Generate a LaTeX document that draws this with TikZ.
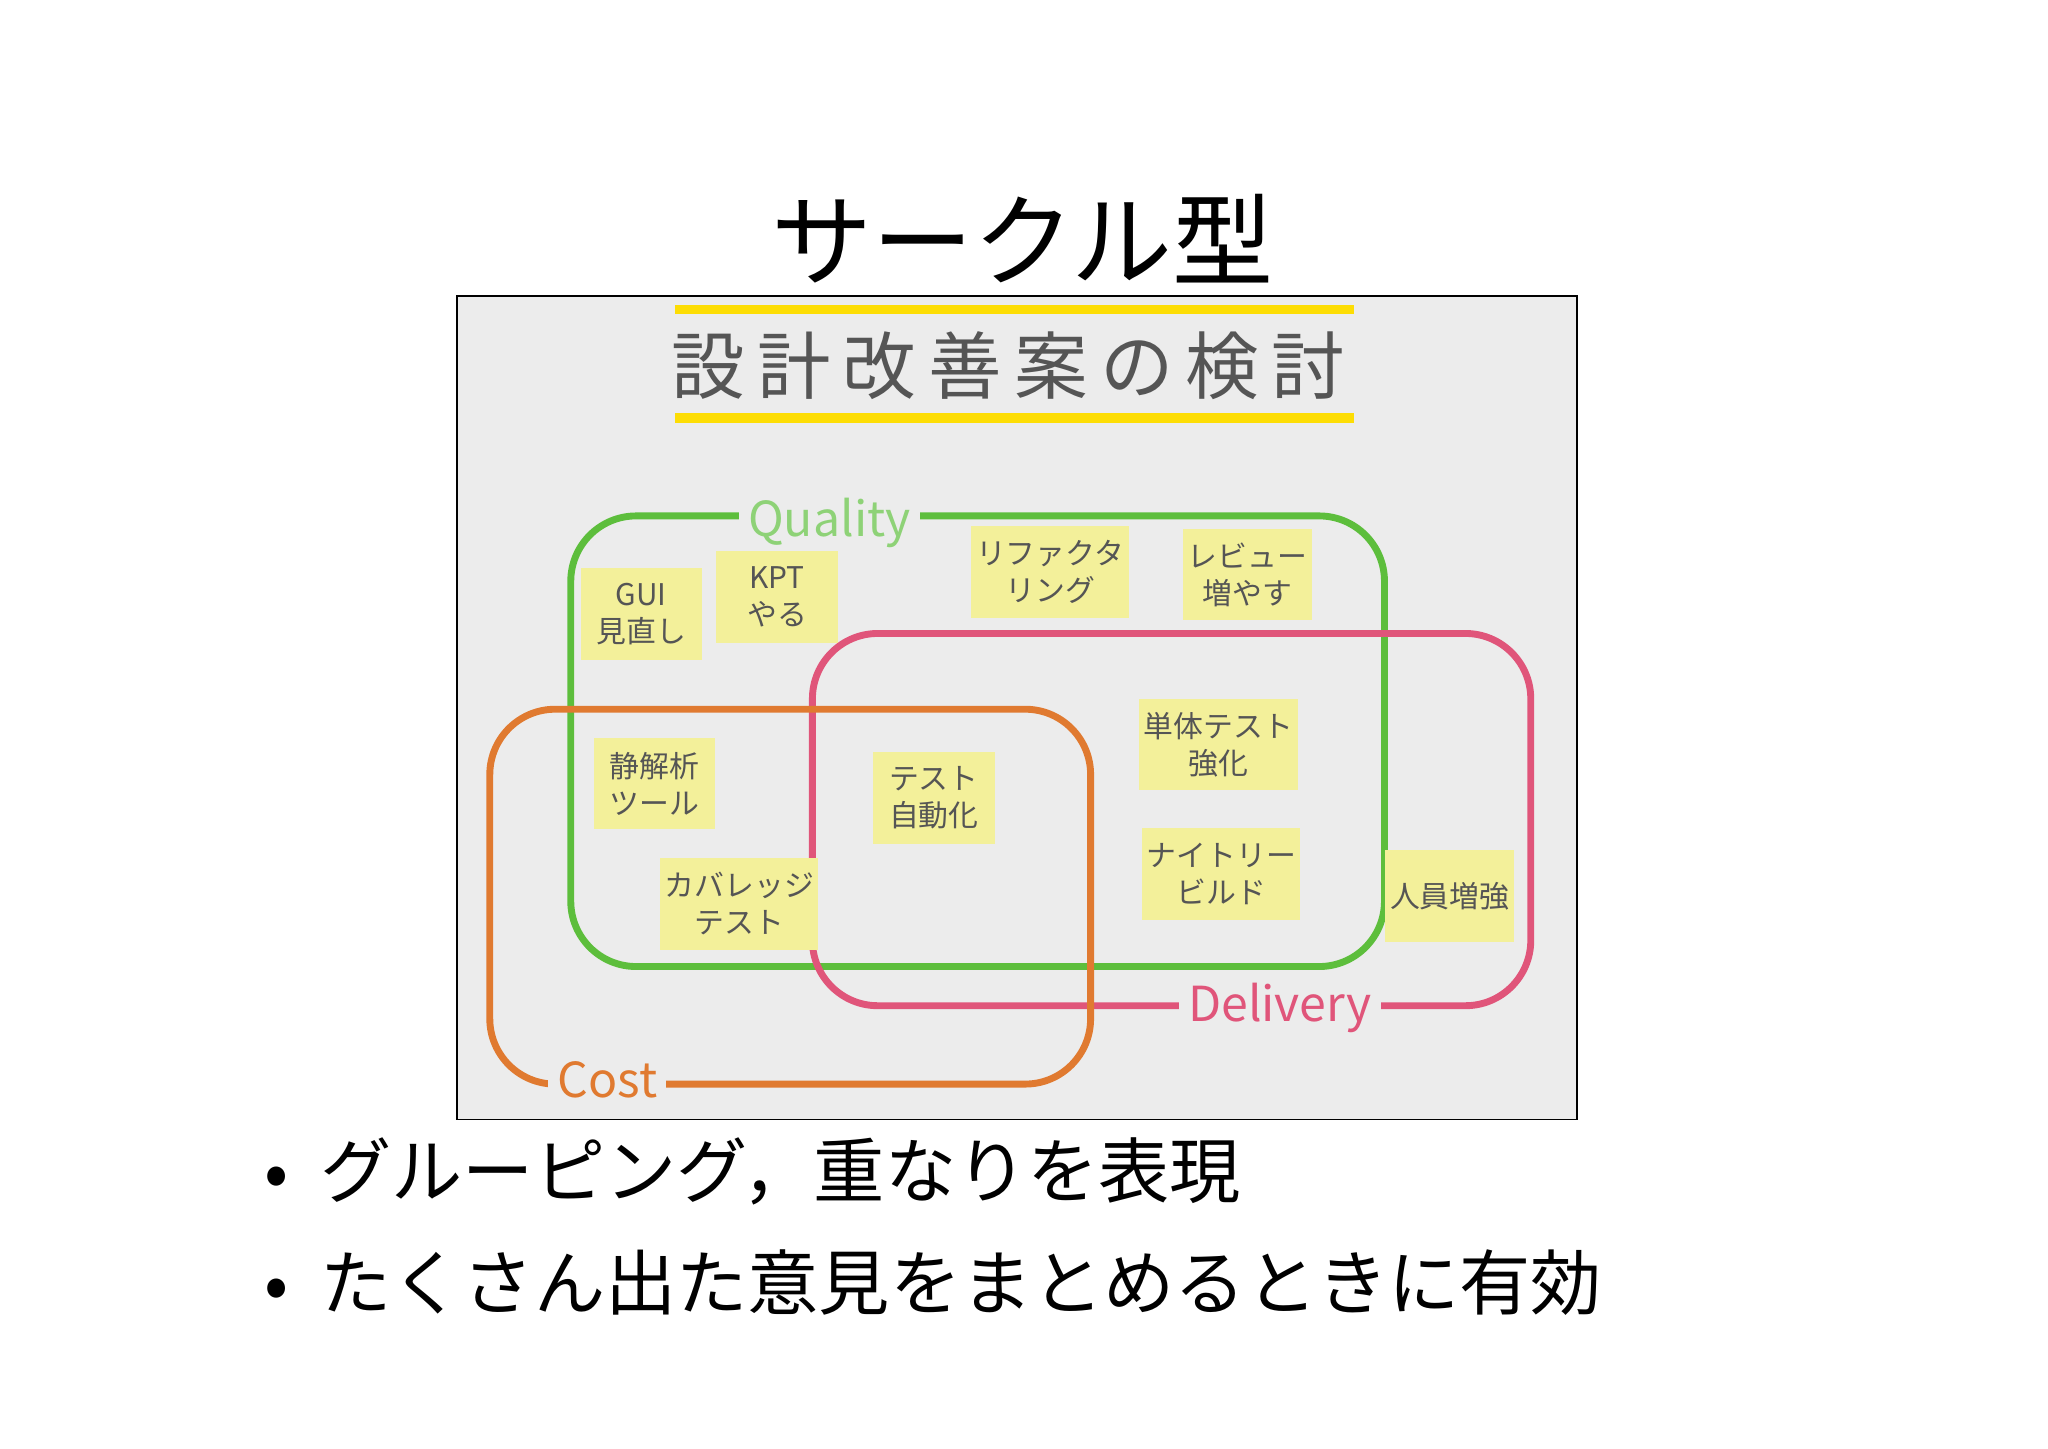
\documentclass[tikz,border=0pt]{standalone}
\usepackage{fontspec}
\setmainfont{Noto Sans CJK JP}
\newfontfamily\jp{Noto Sans CJK JP}
\definecolor{bgp}{HTML}{ECECEC}
\definecolor{sticky}{HTML}{F3F09A}
\definecolor{qgreen}{HTML}{5DBE3C}
\definecolor{dpink}{HTML}{E0557A}
\definecolor{corange}{HTML}{E07A30}
\definecolor{hand}{HTML}{555555}
\tikzset{
 note/.style={fill=sticky,minimum width=0.93cm,minimum height=0.70cm,inner sep=1pt,align=center,font=\jp\fontsize{6.5}{8}\selectfont,text=hand},
 loop/.style={line width=1.5pt,rounded corners=0.5cm},
 lab/.style={fill=bgp,inner sep=2pt,font=\fontsize{10.5}{11}\selectfont},
 bul/.style={anchor=west,font=\jp\fontsize{15.5}{16}\selectfont}
}
\begin{document}
\begin{tikzpicture}[x=0.01cm,y=-0.01cm]
\useasboundingbox[fill=white] (0,0) rectangle (1568,1109);
\node (title) at (783,183) {\fontsize{22}{22}\selectfont サークル型};
\node[draw=black,fill=bgp,minimum width=8.57cm,minimum height=6.30cm,anchor=north west,inner sep=0] (photo) at (349,226) {};
\draw[line width=2pt,yellow!80!orange] (517,237) -- (1037,237);
\draw[line width=2pt,yellow!80!orange] (517,320) -- (1037,320);
\node[text=hand] (ptitle) at (772,280) {\fontsize{16}{16}\selectfont 設\,計\,改\,善\,案\,の\,検\,討};
\draw[loop,qgreen] (437,395) rectangle (1060,740);
\draw[loop,dpink] (622,485) rectangle (1172,770);
\draw[loop,corange] (375,543) rectangle (835,830);
\node[lab,text=qgreen!70] (q) at (635,400) {Quality};
\node[lab,text=dpink] (d) at (980,772) {Delivery};
\node[lab,text=corange] (c) at (465,827) {Cost};
\node[note] (n1) at (491,470) {GUI\\見直し};
\node[note] (n2) at (595,457) {KPT\\やる};
\node[note] (n3) at (804,438) {リファクタ\\リング};
\node[note] (n4) at (955,440) {レビュー\\増やす};
\node[note] (n5) at (933,570) {単体テスト\\強化};
\node[note] (n6) at (501,600) {静解析\\ツール};
\node[note] (n7) at (715,611) {テスト\\自動化};
\node[note] (n8) at (935,669) {ナイトリー\\ビルド};
\node[note] (n9) at (566,692) {カバレッジ\\テスト};
\node[note] (n10) at (1110,686) {人員増強};
\node[bul] (b1) at (190,897) {•\ \ グルーピング，重なりを表現};
\node[bul] (b2) at (190,982) {•\ \ たくさん出た意見をまとめるときに有効};
\end{tikzpicture}
\end{document}
